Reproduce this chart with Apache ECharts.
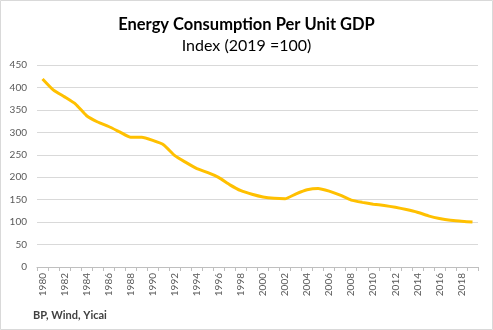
<!DOCTYPE html>
<html>
<head>
<meta charset="utf-8">
<script src="https://cdn.jsdelivr.net/npm/echarts@6/dist/echarts.min.js"></script>
<style>
  html, body { margin: 0; padding: 0; background: #fff; }
  #chart { width: 493px; height: 330px; }
</style>
</head>
<body>
<div id="chart"></div>
<script>
// Energy consumption per unit of GDP, indexed to 2019 = 100
const years = [];
for (let y = 1980; y <= 2019; y++) years.push(String(y));

const indexValues = [
  419, 394, 379, 363, 337, 323, 313, 301, 289, 289,
  282, 272, 248, 233, 219, 210, 199, 183, 170, 162,
  156, 153, 152, 163, 172, 175, 169, 160, 149, 144,
  140, 137, 133, 128, 122, 114, 108, 104, 102, 100
];

const yTicks = { min: 0, max: 450, step: 50 };

const font = 'Lato, "Open Sans", "Liberation Sans", sans-serif';
const chart = echarts.init(document.getElementById('chart'), null, { renderer: 'canvas' });

chart.setOption({
  backgroundColor: '#ffffff',
  animation: false,
  title: [
    {
      text: 'Energy Consumption Per Unit GDP',
      left: 'center',
      top: 11,
      textStyle: { fontFamily: font, fontSize: 16.5, fontWeight: 'bold', color: '#000' }
    },
    {
      text: 'Index (2019 =100)',
      left: 'center',
      top: 33,
      textStyle: { fontFamily: font, fontSize: 16, fontWeight: 'normal', color: '#000' }
    },
    {
      text: 'BP, Wind, Yicai',
      left: 28,
      top: 305,
      textStyle: { fontFamily: font, fontSize: 11, fontWeight: 'bold', color: '#404040' }
    }
  ],
  graphic: [{
    type: 'rect',
    shape: { x: 0.5, y: 0.5, width: 492, height: 329 },
    style: { fill: 'none', stroke: '#d9d9d9', lineWidth: 1 },
    silent: true
  }],
  grid: { left: 37, right: 15, top: 65, bottom: 63 },
  xAxis: {
    type: 'category',
    data: years,
    boundaryGap: true,
    axisLine: { lineStyle: { color: '#bfbfbf' } },
    axisTick: { show: true, interval: 0, length: 4, lineStyle: { color: '#bfbfbf' } },
    axisLabel: {
      interval: 1,
      rotate: 90,
      fontFamily: font,
      fontSize: 10,
      color: '#595959',
      margin: 6
    },
    splitLine: { show: false }
  },
  yAxis: {
    type: 'value',
    min: yTicks.min,
    max: yTicks.max,
    interval: yTicks.step,
    axisLine: { show: false },
    axisTick: { show: false },
    axisLabel: { fontFamily: font, fontSize: 10, color: '#595959', margin: 10 },
    splitLine: { lineStyle: { color: '#d9d9d9', width: 1 } }
  },
  series: [{
    type: 'line',
    data: indexValues,
    smooth: 0.15,
    symbol: 'none',
    lineStyle: { color: '#FFC000', width: 3 }
  }]
});
</script>
</body>
</html>
